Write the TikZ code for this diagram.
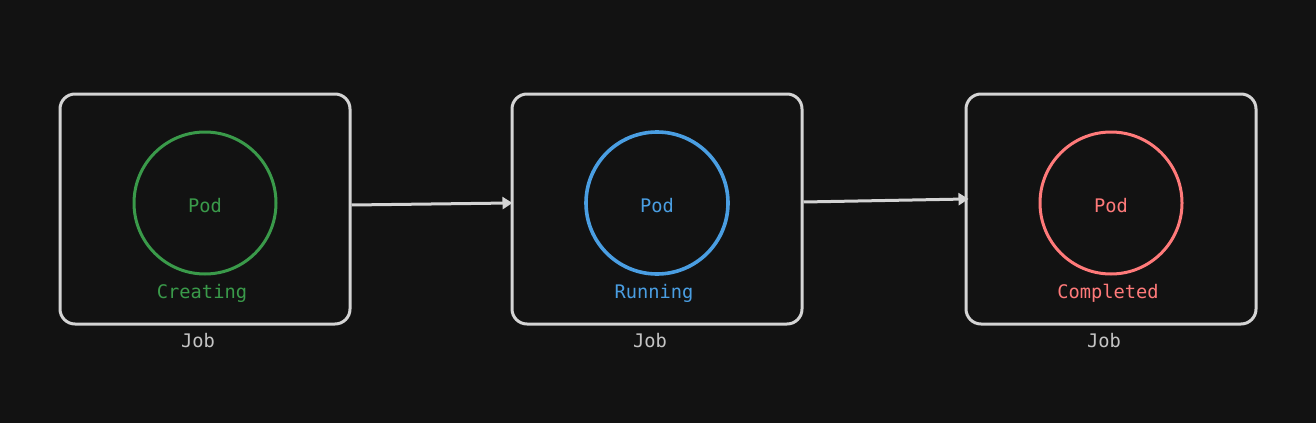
\documentclass[tikz,border=0pt]{standalone}
\usepackage{fontspec}
\setmonofont{DejaVu Sans Mono}
\usetikzlibrary{arrows.meta}
\definecolor{bg}{HTML}{121212}
\definecolor{boxc}{HTML}{D4D4D4}
\definecolor{jobc}{HTML}{C4C4C4}
\definecolor{gr}{HTML}{3A9A4A}
\definecolor{bl}{HTML}{4A9EE2}
\definecolor{rd}{HTML}{FF7A7A}
\tikzset{
  jobbox/.style={draw=boxc, line width=3pt, rounded corners=15pt, minimum width=290pt, minimum height=230pt, fill=bg},
  podc/.style={circle, line width=3pt, minimum size=142pt, inner sep=0pt},
  lbl/.style={font=\ttfamily\fontsize{18.7}{22}\selectfont, inner sep=0pt},
  conn/.style={draw=boxc, line width=3pt, -{Triangle[length=10pt,width=12pt]}, shorten >=-2pt}
}
\begin{document}
\begin{tikzpicture}[x=1pt,y=-1pt]
\fill[bg] (0,0) rectangle (1316,423);
\useasboundingbox (0,0) rectangle (1316,423);
% boxes
\node[jobbox] (b1) at (205,209) {};
\node[jobbox] (b2) at (657,209) {};
\node[jobbox] (b3) at (1111,209) {};
% pods
\node[podc, draw=gr] (p1) at (205,203) {};
\node[podc, draw=bl, line width=3.6pt] (p2) at (657,203) {};
\node[podc, draw=rd] (p3) at (1111,203) {};
\node[lbl, text=gr] (t1) at (205,206) {Pod};
\node[lbl, text=bl] (t2) at (657,206) {Pod};
\node[lbl, text=rd] (t3) at (1111,206) {Pod};
\node[lbl, text=gr] (s1) at (202,293) {Creating};
\node[lbl, text=bl] (s2) at (654,293) {Running};
\node[lbl, text=rd] (s3) at (1108,293) {Completed};
\node[lbl, text=jobc] (j1) at (198,341) {Job};
\node[lbl, text=jobc] (j2) at (650,341) {Job};
\node[lbl, text=jobc] (j3) at (1104,341) {Job};
% connectors
\draw[conn] ([yshift=4pt]b1.east) -- ([yshift=6pt]b2.west);
\draw[conn] ([yshift=7pt]b2.east) -- ([yshift=10pt,xshift=2pt]b3.west);
\end{tikzpicture}
\end{document}
